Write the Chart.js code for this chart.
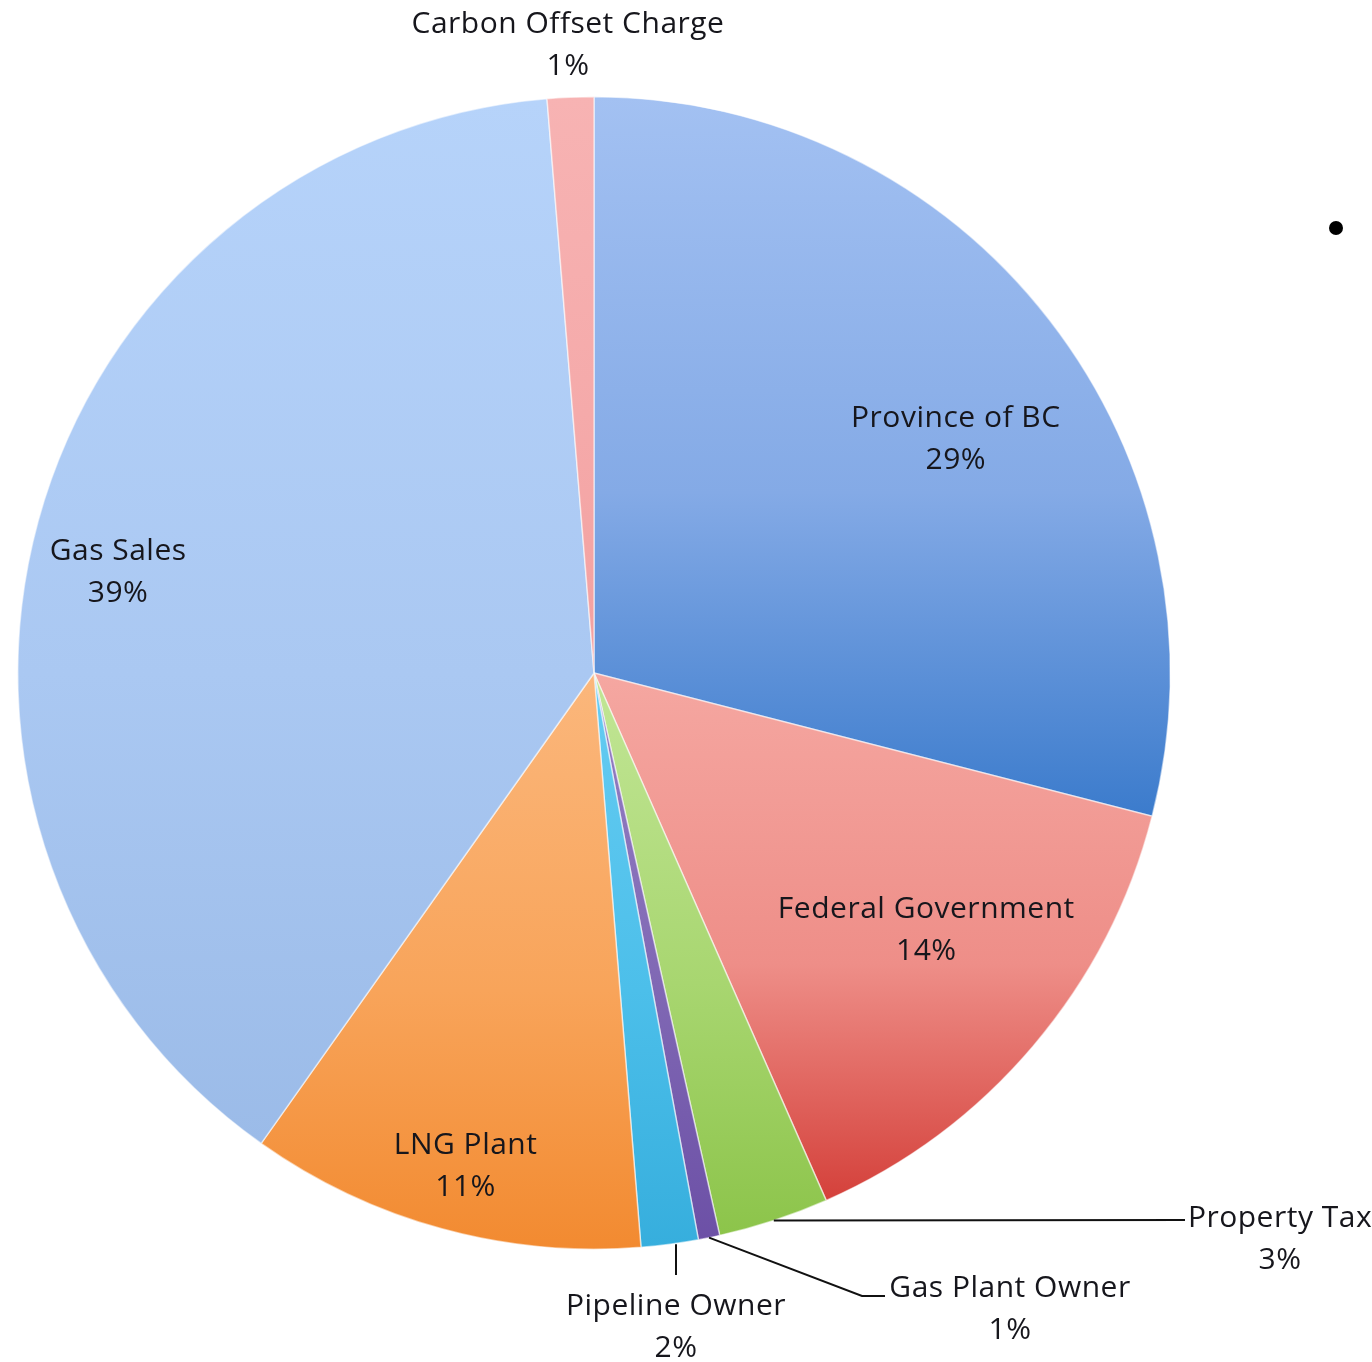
<!DOCTYPE html>
<html>
<head>
<meta charset="utf-8">
<script src="https://cdn.jsdelivr.net/npm/chart.js@4.4.1/dist/chart.umd.min.js"></script>
<style>
html, body { margin: 0; padding: 0; background: #fff; }
#wrap { position: relative; width: 1372px; height: 1362px; }
#dot { position: absolute; left: 1329px; top: 221px; width: 14px; height: 14px; border-radius: 50%; background: #000; }
</style>
</head>
<body>
<div id="wrap">
<canvas id="pieChart" width="1372" height="1362"></canvas>
<div id="dot"></div>
</div>
<script>
// slices, clockwise from 12 o'clock
const categories = ["Province of BC", "Federal Government", "Property Tax", "Gas Plant Owner",
  "Pipeline Owner", "LNG Plant", "Gas Sales", "Carbon Offset Charge"];
const shares = [29.0, 14.4, 3.1, 0.6, 1.6, 11.1, 38.9, 1.3];

const topColors = ["#a3c1f2", "#f5a7a1", "#c2e696", "#9480c4", "#66ccf2", "#fbb77c", "#b6d3fa", "#f7b3b3"];
const midColors = ["#84aae6", "#ee8e88", "#a8d670", "#8068b4", "#4cbfea", "#f8a45a", "#aac8f2", "#f5aaaa"];
const bottomColors = ["#3b7bcc", "#d4403a", "#8cc44a", "#6c50a6", "#36aedd", "#f28a30", "#9bbbe8", "#f3a0a0"];

const FONT = "30px 'Open Sans'";
const LINE_GAP = 42;

// label placement: inside ones by polar offset from slice middle, outside ones with leader lines
const labelPlace = [
  { mode: "in", r: 0.747, turn: 5 },
  { mode: "in", r: 0.73, turn: -2.5 },
  { mode: "out", at: [686, 566], lead: [[591, 547]] },
  { mode: "out", at: [416, 636], lead: [[268, 623], [291, 623]] },
  { mode: "out", at: [82, 654], lead: [[82, 602]], vertical: true },
  { mode: "in", r: 0.884, turn: -0.7 },
  { mode: "in", r: 0.844, turn: -3.4 },
  { mode: "out", at: [-26, -628], lead: [] }
];

function sliceGradient(context) {
  const chart = context.chart;
  const i = context.dataIndex;
  const a = chart.chartArea;
  if (!a) return topColors[i];
  const cx = (a.left + a.right) / 2, cy = (a.top + a.bottom) / 2;
  const r = Math.min(a.right - a.left, a.bottom - a.top) / 2;
  const total = shares.reduce((s, v) => s + v, 0);
  const start = shares.slice(0, i).reduce((s, v) => s + v, 0) / total * 2 * Math.PI - Math.PI / 2;
  const end = start + shares[i] / total * 2 * Math.PI;
  let ymin = cy, ymax = cy;
  for (let k = 0; k <= 60; k++) {
    const t = start + (end - start) * k / 60;
    const y = cy + r * Math.sin(t);
    ymin = Math.min(ymin, y);
    ymax = Math.max(ymax, y);
  }
  const g = chart.ctx.createLinearGradient(0, ymin, 0, ymax + 1);
  g.addColorStop(0, topColors[i]);
  g.addColorStop(0.55, midColors[i]);
  g.addColorStop(1, bottomColors[i]);
  return g;
}

const sliceLabels = {
  id: "sliceLabels",
  afterDatasetsDraw(chart) {
    const ctx = chart.ctx;
    const arcs = chart.getDatasetMeta(0).data;
    const total = shares.reduce((s, v) => s + v, 0);
    ctx.save();
    ctx.font = FONT;
    ctx.letterSpacing = "0.5px";
    ctx.fillStyle = "#16161c";
    ctx.textAlign = "center";
    ctx.textBaseline = "middle";
    ctx.strokeStyle = "#111";
    ctx.lineWidth = 2;
    arcs.forEach((arc, i) => {
      const p = labelPlace[i];
      const cx = arc.x, cy = arc.y, R = arc.outerRadius;
      const mid = (arc.startAngle + arc.endAngle) / 2;
      const pct = Math.round(shares[i] / total * 100) + "%";
      let bx, by;
      if (p.mode === "in") {
        const ang = mid + p.turn * Math.PI / 180;
        bx = cx + Math.cos(ang) * R * p.r;
        by = cy + Math.sin(ang) * R * p.r;
      } else {
        bx = cx + p.at[0];
        by = cy + p.at[1];
        if (p.lead.length) {
          ctx.beginPath();
          let sx = cx + Math.cos(mid) * R, sy = cy + Math.sin(mid) * R;
          if (p.vertical) sx = cx + p.lead[0][0];
          ctx.moveTo(sx, sy);
          p.lead.forEach(q => ctx.lineTo(cx + q[0], cy + q[1]));
          ctx.stroke();
        }
      }
      ctx.fillText(categories[i], bx, by - LINE_GAP / 2);
      ctx.fillText(pct, bx, by + LINE_GAP / 2);
    });
    ctx.restore();
  }
};

new Chart(document.getElementById("pieChart"), {
  type: "pie",
  data: {
    labels: categories,
    datasets: [{
      data: shares,
      backgroundColor: sliceGradient,
      borderColor: "rgba(255,255,255,0.55)",
      borderWidth: 1.5
    }]
  },
  options: {
    responsive: false,
    animation: false,
    layout: { padding: { left: 17, top: 96, right: 201, bottom: 112 } },
    plugins: {
      legend: { display: false },
      tooltip: { enabled: false }
    }
  },
  plugins: [sliceLabels]
});
</script>
</body>
</html>
